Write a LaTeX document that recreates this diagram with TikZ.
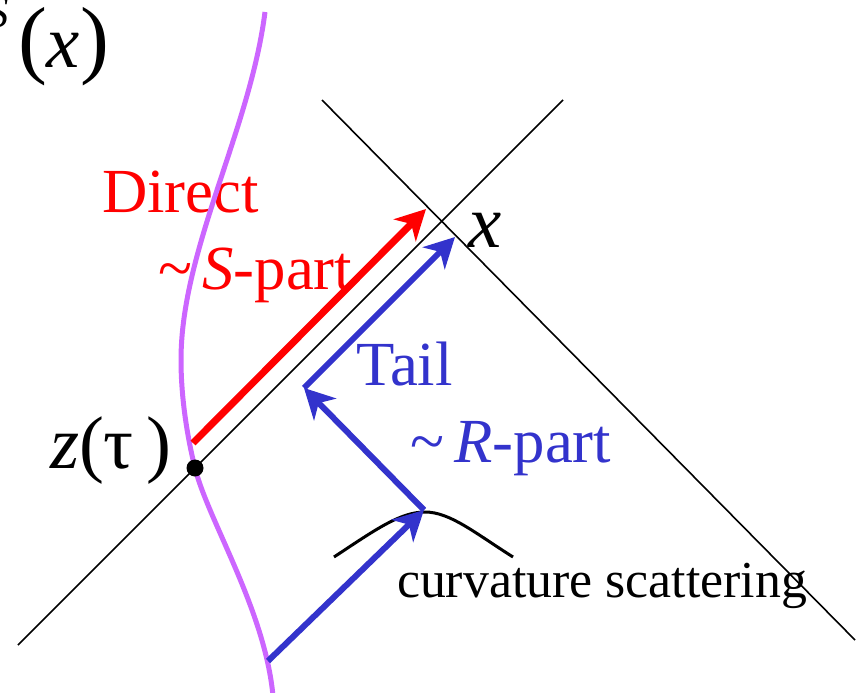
\documentclass[tikz,border=0pt]{standalone}
\usepackage{fontspec}
\setmainfont{Liberation Serif}
\usetikzlibrary{arrows.meta}
\definecolor{myred}{RGB}{255,0,0}
\definecolor{myblue}{RGB}{51,51,204}
\definecolor{mypurple}{RGB}{204,102,255}
\newcommand{\fsz}[1]{\fontsize{#1}{#1}\selectfont}
\tikzset{
  cone/.style={black, line width=1.6bp},
  worldline/.style={mypurple, line width=5bp},
  redarrow/.style={myred, line width=7bp, -{Stealth[length=30bp,width=31bp,inset=9bp]}},
  bluearrow/.style={myblue, line width=6bp, -{Stealth[length=30bp,width=31bp,inset=9bp]}},
  lbl/.style={anchor=base west, inner sep=0pt, outer sep=0pt},
}
\begin{document}
\begin{tikzpicture}[x=1bp,y=-1bp]
\useasboundingbox (0,0) rectangle (857,693);
% light cone lines
\coordinate (A1) at (18,645);
\coordinate (A2) at (563,100);
\coordinate (B1) at (322,100);
\coordinate (B2) at (855,640);
\draw[cone] (A1) -- (A2);
\draw[cone] (B1) -- (B2);
% labels
\node[lbl, text=myred] (direct) at (102,212) {\fsz{63}Direct};
\node[lbl, text=myred] (spart) at (158,289) {\fsz{63}\textasciitilde\,{\itshape S}-part};
\node[lbl, text=myblue] (tail) at (356,385) {\fsz{63}Tail};
\node[lbl, text=myblue] (rpart) at (410,462) {\fsz{63}\textasciitilde\,{\itshape R}-part};
\node[lbl] (xlab) at (468,247) {\fsz{75}\itshape x};
\node[lbl] (zlab) at (50,468) {\fsz{75}{\itshape z}(τ\,)};
\node[anchor=base east, inner sep=0pt] (slab) at (9,28) {\fsz{45}\itshape S};
\node[lbl] (psix) at (18,68) {\fsz{87}(\fsz{75}\itshape x\fsz{87}\upshape)};
\node[lbl] (curv) at (397,597) {\fsz{52}curvature scattering};
% world line
\coordinate (w0) at (265,12);
\coordinate (w1) at (181,360);
\coordinate (w2) at (195,468);
\coordinate (w3) at (273,696);
\draw[worldline] (w0) .. controls (250,130) and (181,250) .. (w1)
  .. controls (181,400) and (188,440) .. (w2)
  .. controls (208,520) and (265,610) .. (w3);
% scattering bump
\coordinate (c1) at (334,557);
\coordinate (cp) at (425,512);
\coordinate (c2) at (513,557);
\draw[black, line width=3bp] (c1) .. controls (375,530) and (400,512) .. (cp) .. controls (450,512) and (475,533) .. (c2);
% arrows
\coordinate (rs) at (193,443);
\coordinate (re) at (426,209);
\draw[redarrow] (rs) -- (re);
\coordinate (b0) at (268,661);
\coordinate (b1) at (424,510);
\coordinate (b2) at (304,388);
\coordinate (b3) at (455,237);
\draw[bluearrow] (b0) -- (b1);
\draw[bluearrow] (b1) -- (b2);
\draw[bluearrow] (b2) -- (b3);
% event point
\node[circle, fill=black, inner sep=0pt, minimum size=17bp] (z) at (195,468) {};
\end{tikzpicture}
\end{document}
